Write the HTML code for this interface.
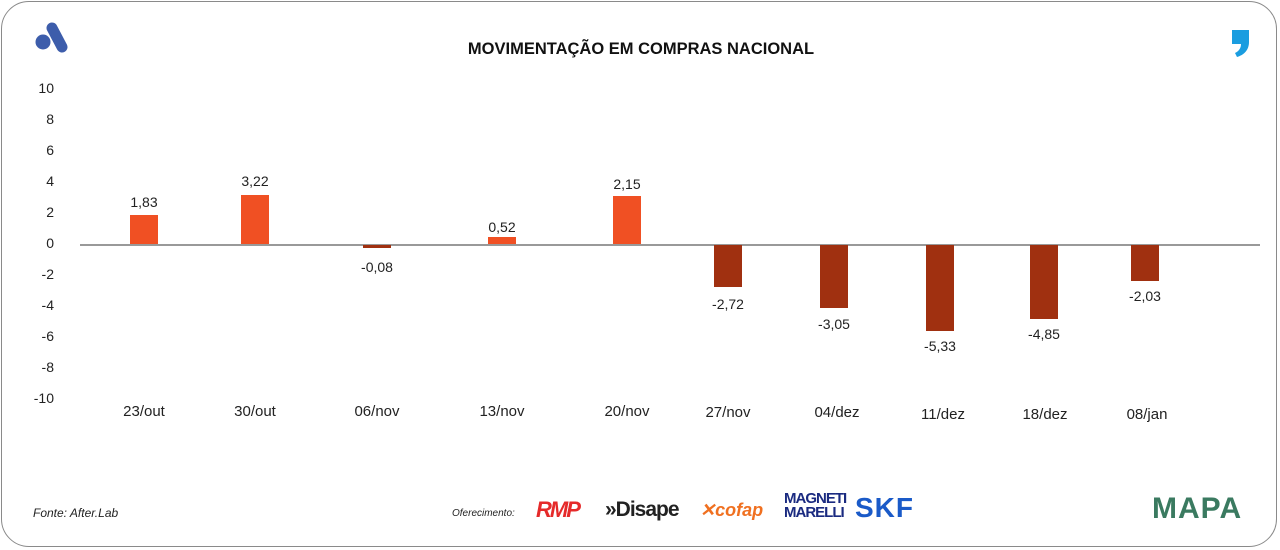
<!DOCTYPE html>
<html><head><meta charset="utf-8"><style>
body{margin:0;width:1280px;height:550px;background:#fff;font-family:"Liberation Sans",sans-serif;overflow:hidden}
.frame{position:absolute;left:1px;top:1px;width:1276px;height:546px;border:1.5px solid #8a8a8a;border-radius:28px;box-sizing:border-box}
.t{position:absolute;color:#222;font-size:14px;white-space:nowrap}
.bar{position:absolute;width:28px}
.p{background:#f05023}.n{background:#a03010}
</style></head><body>
<div class="frame"></div>
<svg style="position:absolute;left:34px;top:22px" width="36" height="34"><circle cx="9" cy="20" r="7.5" fill="#3d5dab"/><line x1="18" y1="6" x2="28" y2="25" stroke="#3d5dab" stroke-width="11" stroke-linecap="round"/></svg>
<div class="t" style="left:0;width:1282px;text-align:center;top:40px;font-weight:bold;font-size:16.5px;color:#111">MOVIMENTAÇÃO EM COMPRAS NACIONAL</div>
<svg style="position:absolute;left:1228px;top:28px" width="26" height="32"><path d="M4 2h17v12c0 8-5 13-12 15l-2-4c4-2 6-5 6-9H4z" fill="#1a9de0"/></svg>
<div class="t" style="left:20px;width:34px;text-align:right;top:80px">10</div>
<div class="t" style="left:20px;width:34px;text-align:right;top:111px">8</div>
<div class="t" style="left:20px;width:34px;text-align:right;top:142px">6</div>
<div class="t" style="left:20px;width:34px;text-align:right;top:173px">4</div>
<div class="t" style="left:20px;width:34px;text-align:right;top:204px">2</div>
<div class="t" style="left:20px;width:34px;text-align:right;top:235px">0</div>
<div class="t" style="left:20px;width:34px;text-align:right;top:266px">-2</div>
<div class="t" style="left:20px;width:34px;text-align:right;top:297px">-4</div>
<div class="t" style="left:20px;width:34px;text-align:right;top:328px">-6</div>
<div class="t" style="left:20px;width:34px;text-align:right;top:359px">-8</div>
<div class="t" style="left:20px;width:34px;text-align:right;top:390px">-10</div>
<div style="position:absolute;left:80px;top:244px;width:1180px;height:1.5px;background:#999"></div>
<div class="bar p" style="left:130px;top:215px;height:29px"></div>
<div class="bar p" style="left:241px;top:195px;height:49px"></div>
<div class="bar n" style="left:363px;top:245px;height:3px"></div>
<div class="bar p" style="left:488px;top:237px;height:7px"></div>
<div class="bar p" style="left:613px;top:196px;height:48px"></div>
<div class="bar n" style="left:714px;top:245px;height:42px"></div>
<div class="bar n" style="left:820px;top:245px;height:63px"></div>
<div class="bar n" style="left:926px;top:245px;height:86px"></div>
<div class="bar n" style="left:1030px;top:245px;height:74px"></div>
<div class="bar n" style="left:1131px;top:245px;height:36px"></div>
<div class="t" style="left:104px;width:80px;text-align:center;top:194px">1,83</div>
<div class="t" style="left:215px;width:80px;text-align:center;top:173px">3,22</div>
<div class="t" style="left:337px;width:80px;text-align:center;top:259px">-0,08</div>
<div class="t" style="left:462px;width:80px;text-align:center;top:219px">0,52</div>
<div class="t" style="left:587px;width:80px;text-align:center;top:176px">2,15</div>
<div class="t" style="left:688px;width:80px;text-align:center;top:296px">-2,72</div>
<div class="t" style="left:794px;width:80px;text-align:center;top:316px">-3,05</div>
<div class="t" style="left:900px;width:80px;text-align:center;top:338px">-5,33</div>
<div class="t" style="left:1004px;width:80px;text-align:center;top:326px">-4,85</div>
<div class="t" style="left:1105px;width:80px;text-align:center;top:288px">-2,03</div>
<div class="t" style="left:104px;width:80px;text-align:center;top:403px;font-size:15px">23/out</div>
<div class="t" style="left:215px;width:80px;text-align:center;top:403px;font-size:15px">30/out</div>
<div class="t" style="left:337px;width:80px;text-align:center;top:403px;font-size:15px">06/nov</div>
<div class="t" style="left:462px;width:80px;text-align:center;top:403px;font-size:15px">13/nov</div>
<div class="t" style="left:587px;width:80px;text-align:center;top:403px;font-size:15px">20/nov</div>
<div class="t" style="left:688px;width:80px;text-align:center;top:404px;font-size:15px">27/nov</div>
<div class="t" style="left:797px;width:80px;text-align:center;top:404px;font-size:15px">04/dez</div>
<div class="t" style="left:903px;width:80px;text-align:center;top:406px;font-size:15px">11/dez</div>
<div class="t" style="left:1005px;width:80px;text-align:center;top:406px;font-size:15px">18/dez</div>
<div class="t" style="left:1107px;width:80px;text-align:center;top:406px;font-size:15px">08/jan</div>
<div class="t" style="left:33px;top:506px;font-size:12px;font-style:italic">Fonte: After.Lab</div>
<div class="t" style="left:452px;top:508px;font-size:10px;font-style:italic">Oferecimento:</div>
<div class="t" style="left:536px;top:497px;font-size:22px;font-weight:bold;color:#e52a2a;font-style:italic;letter-spacing:-2px">RMP</div>
<div class="t" style="left:605px;top:498px;font-size:21px;font-weight:bold;color:#222;letter-spacing:-1px">»Disape</div>
<div class="t" style="left:700px;top:500px;font-size:18px;font-weight:bold;font-style:italic;color:#f07020">✕cofap</div>
<div class="t" style="left:784px;top:492px;font-size:15px;font-weight:bold;color:#1a2a80;line-height:14px;letter-spacing:-1px">MAGNETI<br>MARELLI</div>
<div class="t" style="left:855px;top:492px;font-size:28px;font-weight:bold;color:#1a5ac8;letter-spacing:1px">SKF</div>
<div class="t" style="left:1152px;top:492px;font-size:30px;font-weight:bold;color:#3a7a60;letter-spacing:1px">MAPA</div>
</body></html>
